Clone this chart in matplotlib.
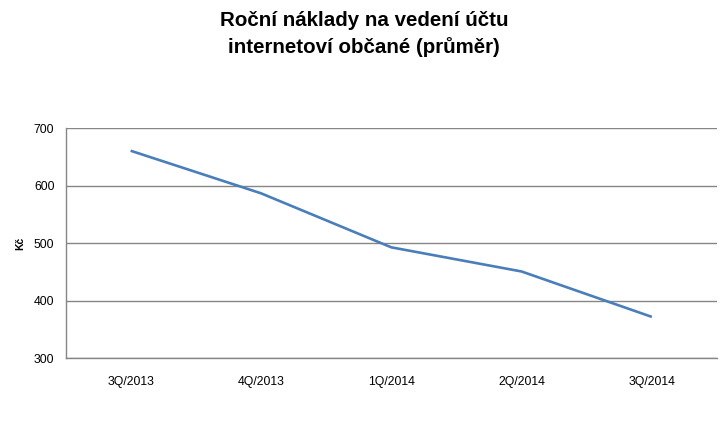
import matplotlib
matplotlib.use("Agg")
import matplotlib.pyplot as plt

# data
quarters = ["3Q/2013", "4Q/2013", "1Q/2014", "2Q/2014", "3Q/2014"]
naklady = [661, 587, 493, 451, 372]

plt.rcParams["font.family"] = ["Liberation Sans", "DejaVu Sans"]

W, H = 728, 421
fig = plt.figure(figsize=(W / 100, H / 100), dpi=100)
ax = fig.add_axes([65.5 / W, (H - 358.3) / H, (717 - 65.5) / W, (358.3 - 128.3) / H])

x = range(len(quarters))
ax.plot(x, naklady, color="#4a7ebb", lw=1.9, solid_capstyle="butt")

ax.set_xlim(-0.5, len(quarters) - 0.5)
ax.set_ylim(300, 700)
ax.set_yticks([300, 400, 500, 600, 700])
ax.set_xticks(list(x))
ax.set_xticklabels(quarters)
ax.grid(axis="y", color="#868686", lw=1.0)
ax.set_axisbelow(True)
ax.tick_params(length=0, labelsize=8.8, colors="#000000", pad=13)
ax.tick_params(axis="y", pad=8)
for s in ["top", "right"]:
    ax.spines[s].set_visible(False)
for s in ["left", "bottom"]:
    ax.spines[s].set_color("#868686")
    ax.spines[s].set_linewidth(1.0)

ax.set_ylabel("Kč", fontsize=7.5, fontweight="bold", labelpad=6)

fig.text(0.5, 1 - 21 / H, "Roční náklady na vedení účtu", ha="center", va="center",
         fontsize=14.8, fontweight="bold")
fig.text(0.5, 1 - 47 / H, "internetoví občané (průměr)", ha="center", va="center",
         fontsize=14.8, fontweight="bold")

fig.savefig("out.png", dpi=100)
